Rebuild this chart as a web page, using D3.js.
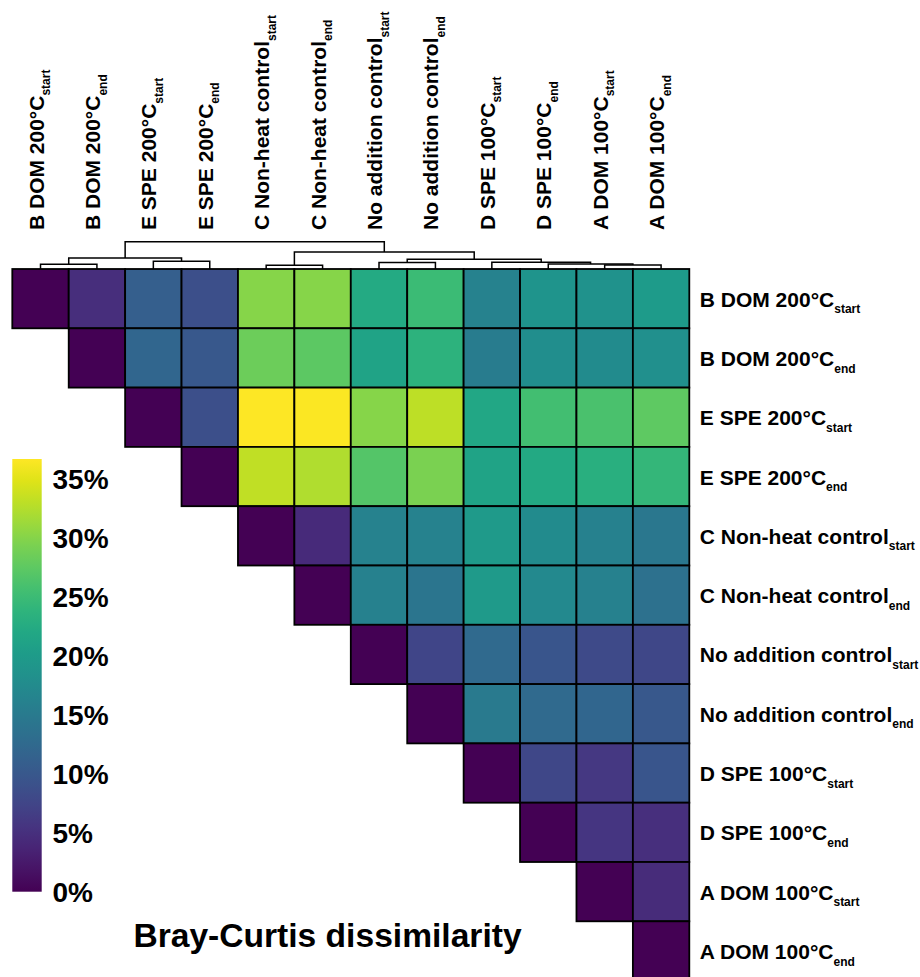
<!DOCTYPE html>
<html>
<head>
<meta charset="utf-8">
<script src="https://cdn.jsdelivr.net/npm/d3@7"></script>
<style>
  html, body { margin: 0; padding: 0; background: #fff; }
  svg { display: block; font-family: "Liberation Sans", Arial, Helvetica, sans-serif; font-weight: bold; }
</style>
</head>
<body>
<svg id="chart" width="920" height="977"></svg>
<script>
// ---------------- data ----------------
const sampleNames = ["B DOM 200°C", "B DOM 200°C", "E SPE 200°C", "E SPE 200°C",
  "C Non-heat control", "C Non-heat control", "No addition control", "No addition control",
  "D SPE 100°C", "D SPE 100°C", "A DOM 100°C", "A DOM 100°C"];
const phases = ["start", "end", "start", "end", "start", "end", "start", "end", "start", "end", "start", "end"];

// Bray-Curtis dissimilarity (%) – upper triangle, each row starts at the diagonal
const rowB1 = [0, 4.8, 11.0, 8.8, 30.0, 30.0, 22.3, 25.0, 16.2, 19.0, 18.5, 20.0];
const rowB2 = [0, 12.0, 10.0, 28.5, 27.5, 21.2, 23.5, 15.3, 18.0, 17.6, 18.2];
const rowE1 = [0, 8.8, 36.6, 36.4, 30.0, 33.0, 21.8, 25.5, 26.2, 27.6];
const rowE2 = [0, 33.2, 32.3, 26.8, 29.3, 21.3, 22.2, 23.2, 24.3];
const rowC1 = [0, 4.3, 16.3, 16.2, 19.8, 17.5, 16.0, 14.6];
const rowC2 = [0, 16.0, 14.3, 19.8, 17.2, 16.0, 13.5];
const rowN1 = [0, 7.5, 12.6, 9.7, 8.2, 7.8];
const rowN2 = [0, 15.0, 12.5, 12.0, 10.0];
const rowD1 = [0, 7.8, 6.0, 9.6];
const rowD2 = [0, 5.7, 5.0];
const rowA1 = [0, 4.5];
const rowA2 = [0];
const rows = [rowB1, rowB2, rowE1, rowE2, rowC1, rowC2, rowN1, rowN2, rowD1, rowD2, rowA1, rowA2];

// hierarchical clustering (hclust style: negative = leaf index (1-based), positive = earlier merge)
const mergeLeft  = [-5, -11, -1, -10, -7, -9, -3, 5, 3, 1, 9];
const mergeRight = [-6, -12, -2, 2, -8, 4, -4, 6, 7, 8, 10];
const mergeHeight = [4.9, 5.3, 6.3, 6.7, 8.8, 9.0, 10.3, 12.9, 14.7, 22.7, 36.4];

const colorMax = 36.67;
const legendTicks = [0, 5, 10, 15, 20, 25, 30, 35];
const legendTitle = "Bray-Curtis dissimilarity";

// ---------------- layout ----------------
const svg = d3.select("#chart");
const ids = d3.range(sampleNames.length);
const gridLeft = 12.3, gridRight = 689.3, gridTop = 269, cellH = 59.3;

const x = d3.scaleBand().domain(ids).range([gridLeft, gridRight]).padding(0);
const y = d3.scaleBand().domain(ids).range([gridTop, gridTop + cellH * ids.length]).padding(0);
const color = d3.scaleSequential(d3.interpolateViridis).domain([0, colorMax]);

// cells
const cells = [];
rows.forEach((r, i) => r.forEach((v, k) => cells.push({ i, j: i + k, v })));
svg.append("g").selectAll("rect").data(cells).join("rect")
  .attr("x", d => x(d.j)).attr("y", d => y(d.i))
  .attr("width", x.bandwidth()).attr("height", y.bandwidth())
  .attr("fill", d => color(d.v))
  .attr("stroke", "#000").attr("stroke-width", 1.8);

// label helper
function addLabel(sel, i) {
  sel.append("tspan").text(sampleNames[i]);
  sel.append("tspan").attr("dy", 6.6).attr("font-size", 12).text(phases[i]);
}

// row labels
svg.append("g").selectAll("text").data(ids).join("text")
  .attr("x", gridRight + 10.5)
  .attr("y", d => y(d) + y.bandwidth() / 2 + 8)
  .attr("font-size", 21)
  .each(function (d) { addLabel(d3.select(this), d); });

// column labels
svg.append("g").selectAll("text").data(ids).join("text")
  .attr("transform", d => `translate(${x(d) + x.bandwidth() / 2 + 3},230) rotate(-90)`)
  .attr("font-size", 21)
  .each(function (d) { addLabel(d3.select(this), d); });

// dendrogram
const hScale = d3.scaleLinear().domain([0, 36.4]).range([gridTop, gridTop - 27.3]);
const nodePos = [];
function pos(ref) {
  if (ref < 0) return { x: x(-ref - 1) + x.bandwidth() / 2, y: hScale(0) };
  return nodePos[ref - 1];
}
const dendroPaths = [];
mergeLeft.forEach((l, k) => {
  const a = pos(l), b = pos(mergeRight[k]);
  const yy = hScale(mergeHeight[k]);
  nodePos.push({ x: (a.x + b.x) / 2, y: yy });
  const p = d3.path();
  p.moveTo(a.x, a.y); p.lineTo(a.x, yy); p.lineTo(b.x, yy); p.lineTo(b.x, b.y);
  dendroPaths.push(p.toString());
});
svg.append("g").selectAll("path").data(dendroPaths).join("path")
  .attr("d", d => d).attr("fill", "none").attr("stroke", "#000").attr("stroke-width", 1.5);

// colour legend
const legTop = 459, legBottom = 891.7, legLeft = 12.3, legW = 29.4;
const legScale = d3.scaleLinear().domain([0, colorMax]).range([legBottom, legTop]);
const defs = svg.append("defs");
const grad = defs.append("linearGradient").attr("id", "vir")
  .attr("x1", 0).attr("y1", 1).attr("x2", 0).attr("y2", 0);
grad.selectAll("stop").data(d3.range(0, 1.0001, 0.05)).join("stop")
  .attr("offset", d => d).attr("stop-color", d => color(d * colorMax));
svg.append("rect").attr("x", legLeft).attr("y", legTop)
  .attr("width", legW).attr("height", legBottom - legTop).attr("fill", "url(#vir)");
svg.append("g").selectAll("text").data(legendTicks).join("text")
  .attr("x", 52.5).attr("y", d => legScale(d) + 10)
  .attr("font-size", 28)
  .text(d => d + "%");

svg.append("text").attr("x", 327.5).attr("y", 947)
  .attr("text-anchor", "middle").attr("font-size", 33.6).text(legendTitle);
</script>
</body>
</html>
